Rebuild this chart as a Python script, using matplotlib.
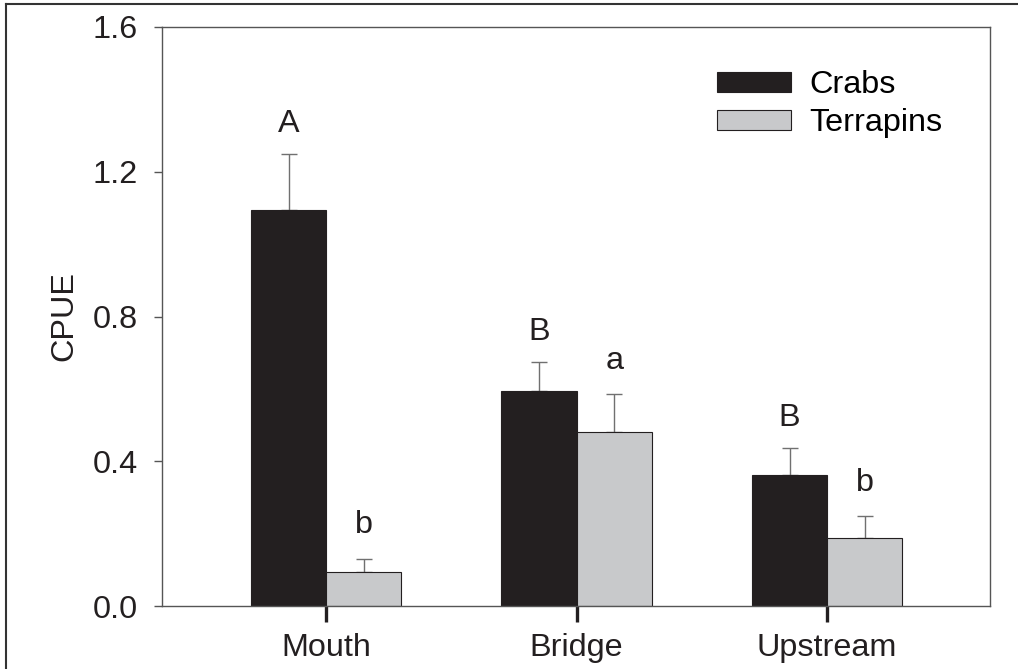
import matplotlib
matplotlib.use("Agg")
import matplotlib.pyplot as plt
import numpy as np
from matplotlib.lines import Line2D

# data
sites = ["Mouth", "Bridge", "Upstream"]
crabs = [1.094, 0.593, 0.361]
crabs_se = [0.155, 0.081, 0.076]
terrapins = [0.095, 0.480, 0.188]
terrapins_se = [0.036, 0.106, 0.061]
crab_letters = ["A", "B", "B"]
terr_letters = ["b", "a", "b"]

plt.rcParams['font.family'] = ['Liberation Sans', 'DejaVu Sans']
ink = "#231f20"
fs = 23.3

fig = plt.figure(figsize=(10.18, 6.69), dpi=100)
ax = fig.add_axes([162 / 1018, 1 - 606 / 669, 828 / 1018, 579 / 669])

x = np.arange(len(sites))
w = 0.30
ax.bar(x - w / 2, crabs, w, color=ink, edgecolor=ink, linewidth=0.8, label="Crabs", zorder=2)
ax.bar(x + w / 2, terrapins, w, color="#c8c9cb", edgecolor=ink, linewidth=0.8, label="Terrapins", zorder=2)

errkw = dict(fmt="none", ecolor="#707070", elinewidth=1.0, capsize=6, capthick=1.0, zorder=1)
ax.errorbar(x - w / 2, crabs, yerr=[np.zeros(3), crabs_se], **errkw)
ax.errorbar(x + w / 2, terrapins, yerr=[np.zeros(3), terrapins_se], **errkw)

for i in range(len(sites)):
    ax.text(x[i] - w / 2, crabs[i] + crabs_se[i] + 0.082, crab_letters[i],
            ha="center", va="center", fontsize=fs, color=ink)
    ax.text(x[i] + w / 2, terrapins[i] + terrapins_se[i] + 0.092, terr_letters[i],
            ha="center", va="center", fontsize=fs, color=ink)

ax.set_xlim(-0.655, 2.65)
ax.set_ylim(0, 1.6)
ax.set_yticks([0.0, 0.4, 0.8, 1.2, 1.6])
ax.set_yticklabels(["0.0", "0.4", "0.8", "1.2", "1.6"])
ax.set_xticks(x)
ax.set_xticklabels(sites)

for s in ax.spines.values():
    s.set_color("#555555")
    s.set_linewidth(1.0)

ax.tick_params(axis="y", direction="out", length=5.5, width=1.0, color="#555555",
               labelsize=fs, labelcolor=ink, pad=12)
ax.tick_params(axis="x", direction="out", length=11.5, width=2.4, color=ink,
               labelsize=fs, labelcolor=ink, pad=8)

ax.set_ylabel("CPUE", fontsize=fs, color=ink)
ax.yaxis.set_label_coords(-0.1, 0.5)

ax.legend(loc="upper left", bbox_to_anchor=(717 / 1018, 1 - 70 / 669),
          bbox_transform=fig.transFigure, frameon=False, fontsize=fs,
          handlelength=2.3, handleheight=0.57, handletextpad=0.56,
          labelspacing=0.25, borderpad=0, borderaxespad=0)

# outer frame (top and left edges)
fig.add_artist(Line2D([6 / 1018, 6 / 1018], [0, 1 - 4 / 669], transform=fig.transFigure,
                      color="#333333", linewidth=1.5))
fig.add_artist(Line2D([6 / 1018, 1], [1 - 4 / 669, 1 - 4 / 669], transform=fig.transFigure,
                      color="#333333", linewidth=1.5))

fig.savefig("out.png", dpi=100)
